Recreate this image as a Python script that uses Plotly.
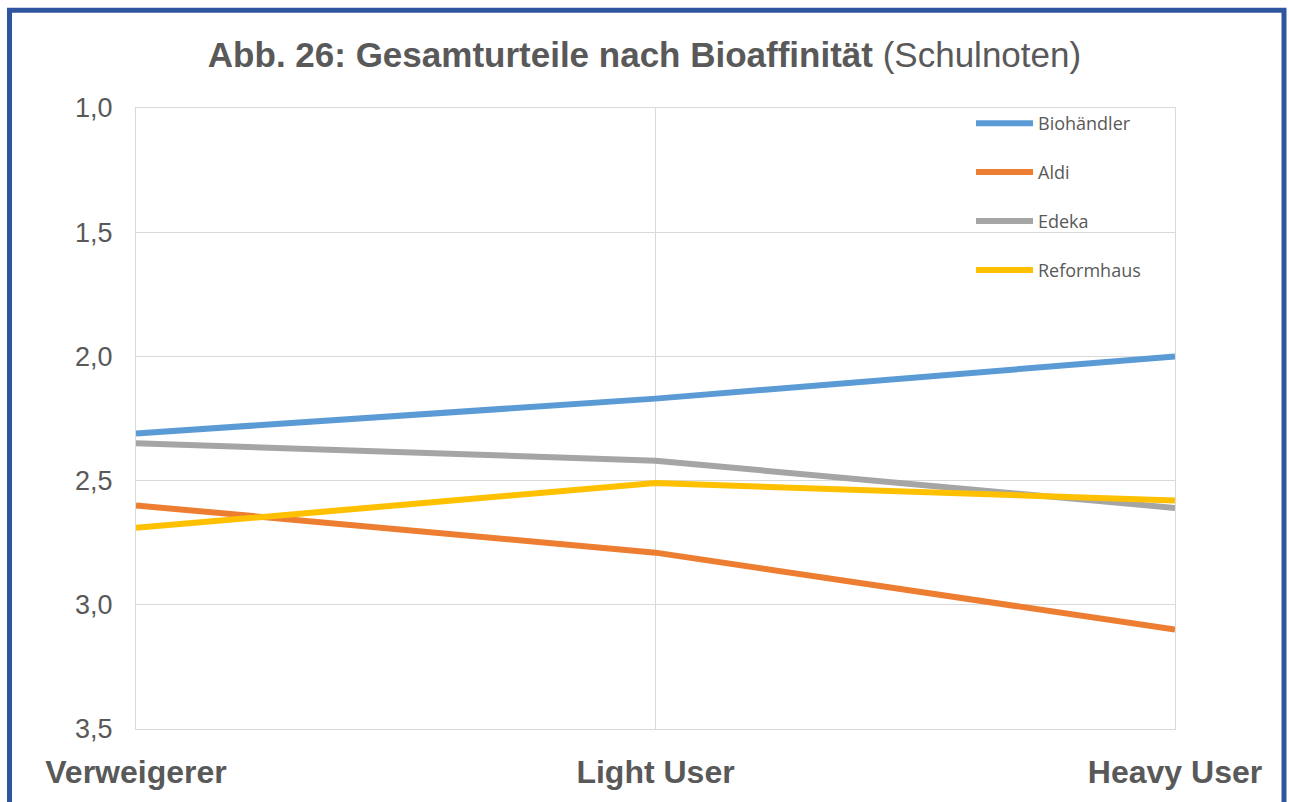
import plotly.graph_objects as go

categories = ["Verweigerer", "Light User", "Heavy User"]
biohaendler = [2.31, 2.17, 2.00]
aldi = [2.60, 2.79, 3.10]
edeka = [2.35, 2.42, 2.61]
reformhaus = [2.69, 2.51, 2.58]

series = [
    ("Biohändler", biohaendler, "#5B9BD5"),
    ("Aldi", aldi, "#ED7D31"),
    ("Edeka", edeka, "#A5A5A5"),
    ("Reformhaus", reformhaus, "#FFC000"),
]

fig = go.Figure()
for i, (name, vals, col) in enumerate(series):
    fig.add_trace(go.Scatter(
        x=categories, y=vals, name=name, mode="lines",
        line=dict(color=col, width=6), legendgroup=f"g{i}",
    ))

text_col = "#595959"
grid_col = "#D9D9D9"
L, R, T, B = 136, 1175, 108, 733
W, H = 1289, 802

def px_x(x):
    return (x - L) / (R - L)

def px_y(y):
    return (B - y) / (B - T)

fig.update_layout(
    width=W, height=H,
    margin=dict(l=L, r=W - R, t=T, b=H - B, pad=0),
    paper_bgcolor="white", plot_bgcolor="white",
    separators=",.",
    title=dict(
        text="<b>Abb. 26: Gesamturteile nach Bioaffinität</b> (Schulnoten)",
        x=0.5, xanchor="center", y=1 - 55 / H, yanchor="middle",
        font=dict(family="Liberation Sans, Arial, sans-serif", size=35, color=text_col),
    ),
    showlegend=True,
    legend=dict(
        x=px_x(971), xanchor="left", y=px_y(105), yanchor="top",
        bgcolor="rgba(0,0,0,0)", tracegroupgap=22.5, itemwidth=57,
        font=dict(family="Open Sans, sans-serif", size=18, color=text_col),
    ),
    xaxis=dict(
        type="category", range=[0, 2], showgrid=True, gridcolor=grid_col, gridwidth=1,
        zeroline=False, showline=True, linecolor=grid_col, linewidth=1, mirror=True, ticks="",
        tickfont=dict(family="Liberation Sans, Arial, sans-serif", size=32, color=text_col, weight="bold"),
        ticklabelstandoff=15,
    ),
    yaxis=dict(
        range=[3.5, 1.0], dtick=0.5, tick0=1.0, tickformat=".1f",
        showgrid=True, gridcolor=grid_col, gridwidth=1, zeroline=False,
        showline=True, linecolor=grid_col, linewidth=1, mirror=True,
        ticks="outside", ticklen=17, tickcolor="rgba(0,0,0,0)",
        tickfont=dict(family="Liberation Sans, Arial, sans-serif", size=27, color=text_col),
    ),
    shapes=[dict(
        type="rect", xref="paper", yref="paper",
        x0=px_x(9.5), x1=px_x(1284), y0=px_y(830), y1=px_y(9.5),
        line=dict(color="#2F55A0", width=5), fillcolor="rgba(0,0,0,0)", layer="above",
    )],
)

fig.write_html(
    "out.html",
    config={"displayModeBar": False},
    post_script="document.body.style.margin='0';",
)
